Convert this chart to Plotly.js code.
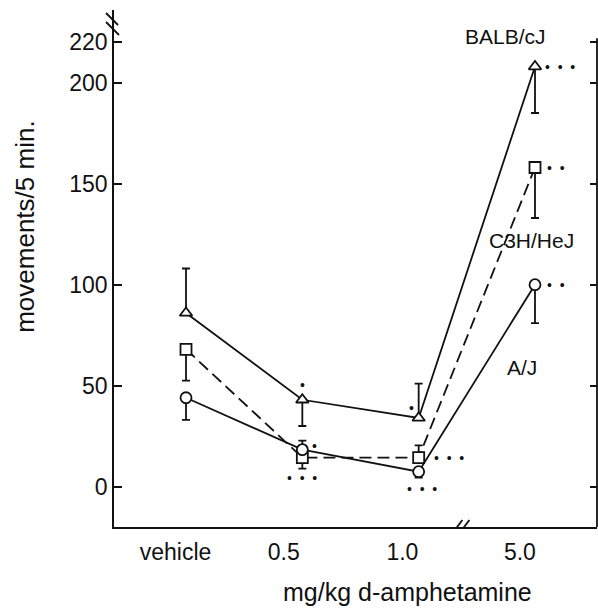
<!DOCTYPE html>
<html>
<head>
<meta charset="utf-8">
<script src="https://cdn.plot.ly/plotly-3.0.1.min.js"></script>
<style>html,body{margin:0;padding:0;background:#fff;}#chart{width:598px;height:611px;}</style>
</head>
<body>
<div id="chart"></div>
<script>
// ---- data ----
const doses = ['vehicle', '0.5', '1.0', '5.0'];
const yTicks = [0, 50, 100, 150, 200, 220];

const balb = [86, 43, 34, 208];
const balbUp = [22, 0, 17, 0];
const balbDown = [0, 13, 0, 23];
const balbSig = ['', '*', '*', '***'];

const c3h = [68, 14.4, 14.4, 158];
const c3hUp = [0, 0, 6, 0];
const c3hDown = [15.5, 5.5, 0, 25];
const c3hSig = ['', '', '***', '**'];

const aj = [44, 18.3, 7.4, 100];
const ajUp = [0, 4.5, 0, 0];
const ajDown = [11, 0, 3, 19];
const ajSig = ['', '*|***', '***', '**'];

const seriesNames = ['BALB/cJ', 'C3H/HeJ', 'A/J'];

// ---- build ----
const FONT = 'Liberation Sans, Arial, Helvetica, sans-serif';
const xIdx = doses.map((d, i) => i);
const LW = 1.8;

function trace(name, y, up, down, symbol, dash) {
  return {
    type: 'scatter', mode: 'lines+markers', name: name,
    x: xIdx, y: y,
    line: {color: '#111', width: LW, dash: dash},
    marker: {symbol: symbol, size: 11, color: '#fff', line: {color: '#111', width: LW}},
    error_y: {type: 'data', symmetric: false, array: up, arrayminus: down,
              color: '#111', thickness: LW, width: 4},
    showlegend: false, hoverinfo: 'skip'
  };
}

const data = [
  trace(seriesNames[1], c3h, c3hUp, c3hDown, 'square', '12px,6px'),
  trace(seriesNames[2], aj, ajUp, ajDown, 'circle', 'solid'),
  trace(seriesNames[0], balb, balbUp, balbDown, 'triangle-up', 'solid')
];

// significance dots as annotations, placed relative to each point
function dots(s) { return s.split('').map(() => '•').join('  '); }
const ann = [];
function sig(y, marks, placements) {
  marks.forEach((m, i) => {
    if (!m) return;
    const parts = m.split('|');
    parts.forEach((p, k) => {
      const pl = placements[i][k];
      ann.push({x: xIdx[i], y: y[i], xref: 'x', yref: 'y', text: dots(p), showarrow: false,
        font: {family: FONT, size: 14, color: '#111'},
        xanchor: pl[0], yanchor: 'middle', xshift: pl[1], yshift: pl[2]});
    });
  });
}
sig(balb, balbSig, [[], [['center', 0, 15]], [['center', -7, 10]], [['left', 8, 0]]]);
sig(c3h, c3hSig, [[], [], [['left', 13, 0]], [['left', 10, 0]]]);
sig(aj, ajSig, [[], [['center', 12, 4], ['center', 0, -28]], [['center', 3, -17]], [['left', 10, 0]]]);

// series labels
const LBL = {family: FONT, size: 21, color: '#111'};
ann.push({xref: 'paper', yref: 'paper', x: 0.81, y: 0.948, text: seriesNames[0], showarrow: false,
  font: LBL, xanchor: 'center', yanchor: 'middle'});
ann.push({xref: 'paper', yref: 'paper', x: 0.864, y: 0.555, text: seriesNames[1], showarrow: false,
  font: LBL, xanchor: 'center', yanchor: 'middle'});
ann.push({xref: 'paper', yref: 'paper', x: 0.845, y: 0.309, text: seriesNames[2], showarrow: false,
  font: LBL, xanchor: 'center', yanchor: 'middle'});

// axis titles
ann.push({xref: 'paper', yref: 'paper', x: -0.185, y: 0.58, text: 'movements/5 min.', showarrow: false,
  textangle: -90, font: {family: FONT, size: 26, color: '#111'}, xanchor: 'center', yanchor: 'middle'});
ann.push({xref: 'paper', yref: 'paper', x: 0.607, y: -0.126, text: 'mg/kg d-amphetamine', showarrow: false,
  font: {family: FONT, size: 25, color: '#111'}, xanchor: 'center', yanchor: 'middle'});

const labelShift = [-0.09, -0.16, -0.14, -0.13];

const shapes = [
  // right frame line
  {type: 'line', xref: 'paper', yref: 'y', x0: 1, x1: 1, y0: -20, y1: 222,
   line: {color: '#111', width: LW}},
  // x-axis break marks
  {type: 'line', xref: 'x', yref: 'y', xsizemode: 'pixel', ysizemode: 'pixel',
   xanchor: 2.35, yanchor: -20, x0: -9, x1: 3, y0: -9, y1: 7, line: {color: '#111', width: LW}},
  {type: 'line', xref: 'x', yref: 'y', xsizemode: 'pixel', ysizemode: 'pixel',
   xanchor: 2.35, yanchor: -20, x0: -2, x1: 10, y0: -9, y1: 7, line: {color: '#111', width: LW}},
  // y-axis break marks
  {type: 'line', xref: 'paper', yref: 'paper', xsizemode: 'pixel', ysizemode: 'pixel',
   xanchor: 0, yanchor: 1, x0: -8, x1: 4, y0: -3, y1: -15, line: {color: '#111', width: LW}},
  {type: 'line', xref: 'paper', yref: 'paper', xsizemode: 'pixel', ysizemode: 'pixel',
   xanchor: 0, yanchor: 1, x0: -8, x1: 5, y0: -12, y1: -25, line: {color: '#111', width: LW}}
];

const layout = {
  width: 598, height: 611,
  margin: {l: 114, r: 1, t: 10, b: 84, pad: 0},
  paper_bgcolor: '#fff', plot_bgcolor: '#fff',
  font: {family: FONT, color: '#111'},
  xaxis: {
    range: [-0.619, 3.533], showgrid: false, zeroline: false,
    showline: true, linecolor: '#111', linewidth: LW,
    tickmode: 'array', tickvals: xIdx.map((v, i) => v + labelShift[i]), ticktext: doses,
    ticks: 'outside', ticklen: 4, tickcolor: 'rgba(0,0,0,0)',
    tickfont: {family: FONT, size: 23, color: '#111'}
  },
  yaxis: {
    range: [-20, 236], showgrid: false, zeroline: false,
    showline: true, linecolor: '#111', linewidth: LW,
    tickmode: 'array', tickvals: yTicks, ticktext: yTicks.map(String),
    ticks: 'inside', ticklen: 8, tickwidth: LW, tickcolor: '#111',
    tickfont: {family: FONT, size: 23, color: '#111'}
  },
  yaxis2: {
    overlaying: 'y', side: 'right', range: [-20, 236], showgrid: false, zeroline: false,
    showline: false, tickmode: 'array', tickvals: yTicks, showticklabels: false,
    ticks: 'inside', ticklen: 7, tickwidth: LW, tickcolor: '#111'
  },
  shapes: shapes,
  annotations: ann,
  showlegend: false
};

// invisible trace to activate yaxis2 ticks
data.push({type: 'scatter', x: [xIdx[0]], y: [balb[0]], yaxis: 'y2', mode: 'markers',
  marker: {opacity: 0}, showlegend: false, hoverinfo: 'skip'});

Plotly.newPlot('chart', data, layout, {staticPlot: true, displayModeBar: false});
</script>
</body>
</html>
